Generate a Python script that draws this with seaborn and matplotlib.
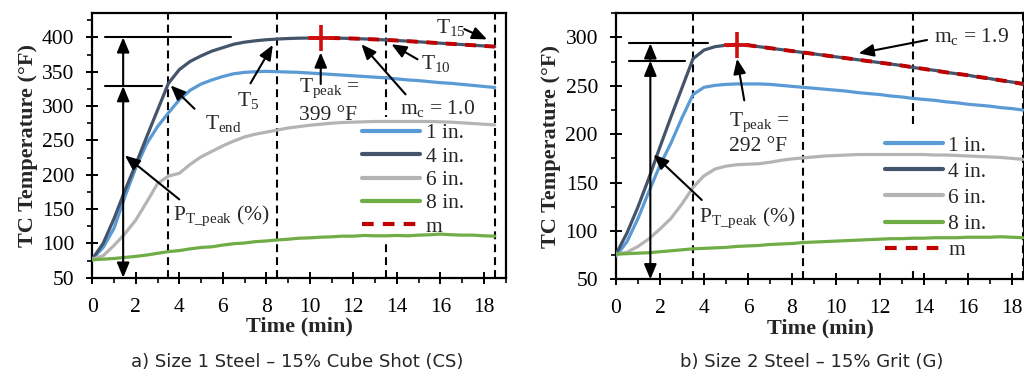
import numpy as np
import pandas as pd
import seaborn as sns
import matplotlib.pyplot as plt
from matplotlib.ticker import MultipleLocator

sns.set_theme(style="ticks")
plt.rcParams['font.family'] = ['Liberation Serif', 'DejaVu Serif']
plt.rcParams['mathtext.fontset'] = 'custom'
plt.rcParams['mathtext.rm'] = 'Liberation Serif'
plt.rcParams['mathtext.it'] = 'Liberation Serif:italic'

# time axis (min), one reading every half minute
time = [0, 0.5, 1, 1.5, 2, 2.5, 3, 3.5, 4, 4.5, 5, 5.5, 6, 6.5, 7, 7.5, 8, 8.5, 9, 9.5,
        10, 10.5, 11, 11.5, 12, 12.5, 13, 13.5, 14, 14.5, 15, 15.5, 16, 16.5, 17, 17.5, 18, 18.5]

# a) Size 1 Steel - 15% Cube Shot
a_1in = [77, 94, 122, 168, 210, 245, 270, 290, 309, 323, 332, 338, 343, 347, 349, 350, 350.5, 350, 349.5, 349,
         348, 347, 346, 345, 344, 343, 342, 341, 339.5, 338, 337, 335.5, 334, 333, 331.5, 330, 328.5, 327]
a_4in = [77, 100, 136, 177, 215, 255, 294, 333, 353, 365, 373, 380, 385, 390, 393, 395, 396.5, 397.5, 398.3, 398.8,
         399, 399.2, 399, 398.7, 398.3, 397.7, 397, 396.2, 395.4, 394.5, 393.5, 392.5, 391.5, 390.5, 389.5, 388.5, 387.5, 386.5]
a_6in = [77, 82, 97, 114, 134, 160, 187, 198, 202, 215, 226, 234, 242, 249, 255, 259, 262, 265, 268, 270,
         272, 273.5, 275, 276, 276.5, 277, 277.5, 277.5, 277.5, 277.5, 277.5, 277.5, 277, 276.5, 275.5, 274.5, 273.5, 272.5]
a_8in = [76, 77, 78, 79.5, 81, 83, 85.5, 88, 89.5, 92, 94, 95, 97.5, 99.5, 100.5, 102.5, 103.5, 105, 106, 107.5,
         108, 109, 109.5, 110.5, 110.5, 111.5, 111, 111, 111.5, 111, 112, 112.5, 113.5, 112.5, 112, 112, 111, 110.5]
a_m_time = [10, 11, 12, 13, 14, 15, 16, 17, 18, 18.5]
a_m = [399, 399, 398.3, 397, 395.4, 393.5, 391.5, 389.5, 387.5, 386.5]
a_peak = (10.5, 399)

# b) Size 2 Steel - 15% Grit
b_1in = [74, 89, 113, 141, 168, 191, 217, 241, 248.5, 250.5, 251.5, 252, 252, 252, 251.5, 250.5, 249.5, 248.5, 247.5, 246.5,
         245.5, 244.5, 243, 242, 241, 239.5, 238.5, 237, 236, 235, 233.5, 232.5, 231, 230, 229, 227.5, 226.5, 225]
b_4in = [76, 98, 125, 155, 187, 218, 248, 278, 287, 290.5, 292, 292.5, 292, 290.5, 289, 287.5, 286, 284.5, 283, 281.5,
         280, 278.5, 277, 275.5, 274, 272.5, 271, 269, 267.5, 266, 264, 262.5, 261, 259, 257.5, 255.5, 254, 252]
b_6in = [76, 78, 84, 92, 102, 113, 128, 145, 157, 164, 167, 168.5, 169, 169.5, 171, 173, 174.5, 175.5, 176.5, 177.5,
         178, 178.5, 179, 179, 179, 179, 179, 179, 179, 178.5, 178.5, 178, 177.5, 177, 176.5, 176, 175, 174]
b_8in = [76, 76.5, 77, 77.5, 78.5, 79.5, 80.5, 81.5, 82, 82.5, 83, 84, 84.5, 85, 86, 86.5, 87, 88, 88.5, 89,
         89.5, 90, 90.5, 91, 91.5, 92, 92, 92.5, 92.5, 93, 93, 93, 93.5, 93.5, 93.5, 94, 93.5, 93]
b_m_time = [5, 5.5, 6, 7, 8, 9, 10, 11, 12, 13, 14, 15, 16, 17, 18, 18.5]
b_m = [292, 292.5, 292, 289, 286, 283, 280, 277, 274, 271, 267.5, 264, 261, 257.5, 254, 252]
b_peak = (5.5, 292)

depths = ["1 in.", "4 in.", "6 in.", "8 in."]
colors = ["#5B9BD5", "#44546A", "#B4B4B4", "#70AD47"]
phase_times = [3.5, 8.5, 13.5, 18.5]

fig = plt.figure(figsize=(10.24, 3.73), dpi=100)
ax1 = fig.add_axes([0.0901, 0.2555, 0.4037, 0.7088])
ax2 = fig.add_axes([0.6016, 0.2512, 0.3984, 0.7131])

arrow = dict(arrowstyle='-|>,head_length=0.6,head_width=0.25', color='black', lw=1.5,
             mutation_scale=15, shrinkA=0, shrinkB=0)
arrow2 = dict(arrow, arrowstyle='<|-|>,head_length=0.6,head_width=0.25')
fs = 15.5


def draw_panel(ax, series, m_time, m_vals, peak, ylim, xmax, leg_anchor, leg_space):
    for t in phase_times:
        ax.axvline(t, color='black', lw=1.5, ls=(0, (3.8, 2.4)), zorder=1)
    for name, col, vals in zip(depths, colors, series):
        sns.lineplot(x=time, y=vals, ax=ax, color=col, lw=2.3, label=name, zorder=3)
    sns.lineplot(x=m_time, y=m_vals, ax=ax, color="#C00000", lw=2.8,
                 linestyle=(0, (2.8, 2.2)), label="m", zorder=4)
    ax.plot(*peak, marker='+', color='#D01010', ms=19, mew=2.6, zorder=6)

    ax.set_xlim(0, xmax)
    ax.set_ylim(*ylim)
    ax.xaxis.set_major_locator(MultipleLocator(2))
    ax.xaxis.set_minor_locator(MultipleLocator(1))
    ax.yaxis.set_major_locator(MultipleLocator(50))
    ax.yaxis.set_minor_locator(MultipleLocator(25))
    ax.tick_params(which='major', direction='inout', length=8, width=1.4,
                   labelsize=15.5, colors='black')
    ax.tick_params(axis='y', which='major', pad=9)
    ax.tick_params(axis='x', which='major', pad=10.5)
    ax.tick_params(which='minor', direction='out', length=3.5, width=1.4)
    for s in ax.spines.values():
        s.set_linewidth(1.6)
        s.set_color('black')
    ax.set_xlabel("Time (min)", fontsize=16, fontweight='bold', labelpad=0)
    ax.set_ylabel("TC Temperature (°F)", fontsize=16, fontweight='bold', labelpad=3)

    leg = ax.legend(loc='upper left', bbox_to_anchor=leg_anchor, frameon=True,
                    fontsize=fs, handlelength=2.7, handletextpad=0.25,
                    labelspacing=leg_space, borderpad=0.3, borderaxespad=0,
                    fancybox=False)
    leg.get_frame().set_facecolor('white')
    leg.get_frame().set_edgecolor('none')
    leg.get_frame().set_alpha(1)
    leg.set_zorder(2)
    for h in leg.get_lines():
        h.set_linewidth(3)


draw_panel(ax1, [a_1in, a_4in, a_6in, a_8in], a_m_time, a_m, a_peak,
           (50, 435), 19, (0.637, 0.608), 0.15)
draw_panel(ax2, [b_1in, b_4in, b_6in, b_8in], b_m_time, b_m, b_peak,
           (50, 325), 18.55, (0.643, 0.564), 0.28)

# panel a annotations
ax1.plot([0.6, 6.38], [400, 400], color='black', lw=1.5, zorder=5)
ax1.plot([0.6, 3.2], [329, 329], color='black', lw=1.5, zorder=5)
ax1.annotate('', xy=(1.42, 50), xytext=(1.42, 329), arrowprops=arrow2, zorder=5)
ax1.annotate('', xy=(1.42, 400), xytext=(1.42, 329), arrowprops=arrow, zorder=5)
ax1.annotate('', xy=(1.5, 228), xytext=(4.0, 164), arrowprops=arrow, zorder=5)
ax1.text(3.69, 133.7, r'P$_{\mathrm{T\_peak}}$ (%)', fontsize=fs, va='baseline', zorder=5)
ax1.annotate('', xy=(3.6, 330), xytext=(4.7, 296), arrowprops=arrow, zorder=5)
ax1.text(5.18, 266.8, r'T$_{\mathrm{end}}$', fontsize=fs, va='baseline', zorder=5)
ax1.annotate('', xy=(8.3, 389), xytext=(7.27, 333), arrowprops=arrow, zorder=5)
ax1.text(6.63, 300.6, r'T$_{5}$', fontsize=fs, va='baseline', zorder=5)
ax1.annotate('', xy=(10.5, 378), xytext=(10.5, 332), arrowprops=arrow, zorder=5)
ax1.text(9.5, 320, r'T$_{\mathrm{peak}}$ =', fontsize=fs, va='baseline', zorder=5)
ax1.text(9.5, 279, '399 °F', fontsize=fs, va='baseline', zorder=5)
ax1.annotate('', xy=(12.37, 390), xytext=(14.4, 317), arrowprops=arrow, zorder=5)
ax1.text(14.13, 288.6, r'm$_{\mathrm{c}}$ = 1.0', fontsize=fs, va='baseline', zorder=5)
ax1.annotate('', xy=(13.75, 390), xytext=(14.95, 368), arrowprops=arrow, zorder=5)
ax1.text(15.13, 354, r'T$_{10}$', fontsize=fs, va='baseline', zorder=5)
ax1.annotate('', xy=(18.15, 397), xytext=(17.1, 412), arrowprops=arrow, zorder=5)
ax1.text(15.82, 407, r'T$_{15}$', fontsize=fs, va='baseline', zorder=5)

# panel b annotations
ax2.plot([0.58, 4.2], [294, 294], color='black', lw=1.5, zorder=5)
ax2.plot([0.58, 3.15], [276, 276], color='black', lw=1.5, zorder=5)
ax2.annotate('', xy=(1.56, 50), xytext=(1.56, 276), arrowprops=arrow2, zorder=5)
ax2.annotate('', xy=(1.56, 294), xytext=(1.56, 276), arrowprops=arrow, zorder=5)
ax2.annotate('', xy=(1.71, 179), xytext=(3.9, 132), arrowprops=arrow, zorder=5)
ax2.text(3.79, 109.4, r'P$_{\mathrm{T\_peak}}$ (%)', fontsize=fs, va='baseline', zorder=5)
ax2.annotate('', xy=(5.5, 278), xytext=(5.83, 235), arrowprops=arrow, zorder=5)
ax2.text(5.15, 209, r'T$_{\mathrm{peak}}$ =', fontsize=fs, va='baseline', zorder=5)
ax2.text(5.15, 183, '292 °F', fontsize=fs, va='baseline', zorder=5)
ax2.annotate('', xy=(11.03, 283.6), xytext=(14.14, 297.4), arrowprops=arrow, zorder=5)
ax2.text(14.48, 295, r'm$_{\mathrm{c}}$ = 1.9', fontsize=fs, va='baseline', zorder=5)

fig.text(0.29, 0.03, "a) Size 1 Steel – 15% Cube Shot (CS)", family='DejaVu Sans',
         fontsize=13, color='#262626', ha='center', va='center')
fig.text(0.793, 0.03, "b) Size 2 Steel – 15% Grit (G)", family='DejaVu Sans',
         fontsize=13, color='#262626', ha='center', va='center')

fig.savefig("out.png", dpi=100)
